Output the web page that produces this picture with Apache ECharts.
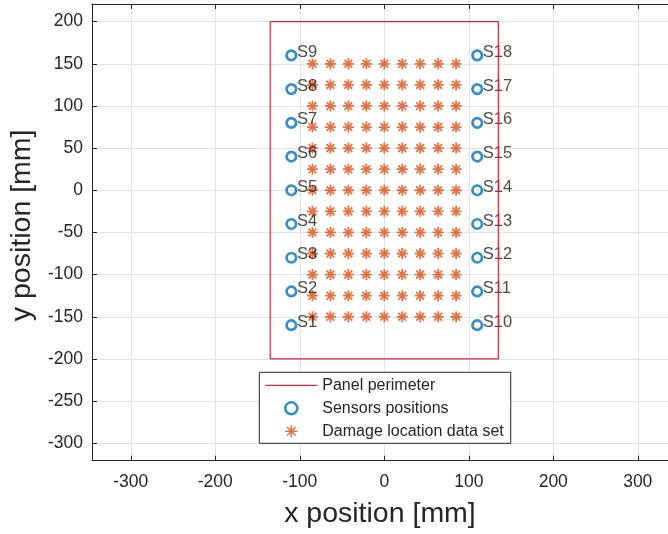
<!DOCTYPE html>
<html>
<head>
<meta charset="utf-8">
<script src="https://cdn.jsdelivr.net/npm/echarts@6/dist/echarts.min.js"></script>
<style>
  html, body { margin: 0; padding: 0; background: #ffffff; }
  #chart { width: 668px; height: 534px; }
</style>
</head>
<body>
<div id="chart"></div>
<script>
// Axis tick values
const xTicks = [-300, -200, -100, 0, 100, 200, 300];
const yTicks = [-300, -250, -200, -150, -100, -50, 0, 50, 100, 150, 200];

// Panel perimeter outline (mm)
const panelX = [-135, 135, 135, -135, -135];
const panelY = [-200, -200, 200, 200, -200];

// Sensor positions (mm)
const sensorNames = ['S1', 'S2', 'S3', 'S4', 'S5', 'S6', 'S7', 'S8', 'S9',
                     'S10', 'S11', 'S12', 'S13', 'S14', 'S15', 'S16', 'S17', 'S18'];
const sensorX = [-110, -110, -110, -110, -110, -110, -110, -110, -110,
                  110, 110, 110, 110, 110, 110, 110, 110, 110];
const sensorY = [-160, -120, -80, -40, 0, 40, 80, 120, 160,
                 -160, -120, -80, -40, 0, 40, 80, 120, 160];

// Damage location grid (mm)
const damageX = [-85, -63.75, -42.5, -21.25, 0, 21.25, 42.5, 63.75, 85];
const damageY = [150, 125, 100, 75, 50, 25, 0, -25, -50, -75, -100, -125, -150];

const panelData = panelX.map((x, i) => [x, panelY[i]]);
const sensorData = sensorNames.map((n, i) => ({ name: n, value: [sensorX[i], sensorY[i]] }));
const damageData = [];
damageY.forEach(y => damageX.forEach(x => damageData.push([x, y])));

const axisColor = '#262626';
const gridColor = '#e3e3e3';
const panelColor = '#d62a38';
const sensorColor = '#0072bd';
const damageColor = '#d95319';
const font = '"Liberation Sans", Arial, Helvetica, sans-serif';

// eight-spoke asterisk marker
const asterisk = 'path://M0,5L10,5M5,0L5,10M1.46,1.46L8.54,8.54M1.46,8.54L8.54,1.46';
// plain line swatch for the perimeter legend entry (outer moves keep the box full height)
const lineSwatch = 'path://M0,0M0,5.4L52,5.4L52,6.6L0,6.6ZM52,12';

const X_MIN = -346, X_MAX = 335.8, Y_MIN = -320.7, Y_MAX = 220.9;

const chart = echarts.init(document.getElementById('chart'), null, { renderer: 'canvas' });

chart.setOption({
  backgroundColor: '#ffffff',
  animation: false,
  textStyle: { fontFamily: font },
  grid: { left: 90.7, right: 0, top: 4, bottom: 73.3 },
  xAxis: [{
    type: 'value', min: X_MIN, max: X_MAX, position: 'bottom',
    name: 'x position [mm]', nameLocation: 'middle', nameGap: 39,
    nameTextStyle: { fontSize: 28.5, color: axisColor, fontFamily: font },
    axisLine: { show: true, onZero: false, lineStyle: { color: axisColor, width: 1 } },
    axisTick: { show: true, inside: true, length: 5, customValues: xTicks, lineStyle: { color: axisColor } },
    axisLabel: { customValues: xTicks, fontSize: 17.5, color: axisColor, margin: 12, fontFamily: font },
    splitLine: { show: true, lineStyle: { color: gridColor, width: 1 } }
  }, {
    type: 'value', min: X_MIN, max: X_MAX, position: 'top',
    axisLine: { show: true, onZero: false, lineStyle: { color: axisColor, width: 1 } },
    axisTick: { show: true, inside: true, length: 5, customValues: xTicks, lineStyle: { color: axisColor } },
    axisLabel: { show: false },
    splitLine: { show: false }
  }],
  yAxis: [{
    type: 'value', min: Y_MIN, max: Y_MAX, position: 'left',
    name: 'y position [mm]', nameLocation: 'middle', nameGap: 38,
    nameTextStyle: { fontSize: 28.5, color: axisColor, fontFamily: font, padding: [0, 0, 0, 14] },
    axisLine: { show: true, onZero: false, lineStyle: { color: axisColor, width: 1 } },
    axisTick: { show: true, inside: true, length: 5, customValues: yTicks, lineStyle: { color: axisColor } },
    axisLabel: { customValues: yTicks, fontSize: 17.5, color: axisColor, margin: 9, fontFamily: font },
    splitLine: { show: true, lineStyle: { color: gridColor, width: 1 } }
  }],
  legend: {
    orient: 'vertical', left: 259.3, top: 372.3,
    padding: [5, 7, 4, 6], itemGap: 7, itemWidth: 52, itemHeight: 12,
    backgroundColor: '#ffffff', borderColor: axisColor, borderWidth: 1, borderRadius: 0,
    textStyle: { fontSize: 16, lineHeight: 16, color: axisColor, fontFamily: font },
    data: [
      { name: 'Panel perimeter', icon: lineSwatch },
      { name: 'Sensors positions',
        itemStyle: { color: 'rgba(255,255,255,0)', borderColor: sensorColor, borderWidth: 2.6 } },
      { name: 'Damage location data set',
        itemStyle: { color: damageColor, borderColor: damageColor, borderWidth: 1.6 } }
    ]
  },
  series: [{
    name: 'Panel perimeter', type: 'line', data: panelData,
    symbol: 'none', lineStyle: { color: panelColor, width: 1.2 }, itemStyle: { color: panelColor }
  }, {
    name: 'Sensors positions', type: 'scatter', data: sensorData,
    symbol: 'circle', symbolSize: 9.5,
    itemStyle: { color: 'rgba(255,255,255,0)', borderColor: sensorColor, borderWidth: 2.7 },
    label: {
      show: true, position: 'right', distance: -0.5, offset: [0, -3],
      formatter: p => p.name, fontSize: 16.5, color: '#1a1a1a', fontFamily: font
    }
  }, {
    name: 'Damage location data set', type: 'scatter', data: damageData,
    symbol: asterisk, symbolSize: 11,
    itemStyle: { color: damageColor, borderColor: damageColor, borderWidth: 1.8 }
  }]
});
</script>
</body>
</html>
